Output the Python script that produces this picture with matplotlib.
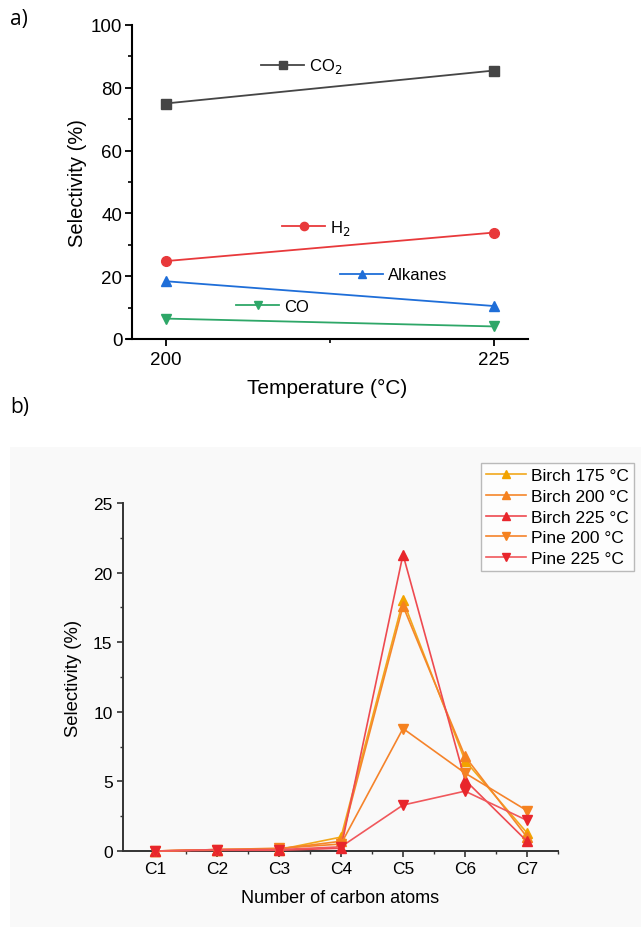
import matplotlib
matplotlib.use("Agg")
import matplotlib.pyplot as plt
from matplotlib.legend import Legend
from matplotlib.patches import Rectangle
from matplotlib.ticker import MultipleLocator, FixedLocator

plt.rcParams['font.family'] = ['Liberation Sans', 'DejaVu Sans']

# ---------------- data: panel a ----------------
temps = [200, 225]
co2 = [75.0, 85.5]
h2 = [24.8, 33.9]
alkanes = [18.4, 10.5]
co = [6.5, 4.0]
a_labels = ["CO$_2$", "H$_2$", "Alkanes", "CO"]
a_colors = ["#454545", "#E8393B", "#1F6ED8", "#2EA768"]
a_markers = ["s", "o", "^", "v"]

# ---------------- data: panel b ----------------
carbons = ["C1", "C2", "C3", "C4", "C5", "C6", "C7"]
birch175 = [0.0, 0.10, 0.10, 1.0, 18.0, 6.5, 1.3]
birch200 = [0.0, 0.10, 0.15, 0.7, 17.6, 6.8, 1.0]
birch225 = [0.0, 0.05, 0.05, 0.2, 21.3, 5.1, 0.7]
pine200 = [0.0, 0.10, 0.20, 0.5, 8.8, 5.6, 2.9]
pine225 = [0.0, 0.10, 0.10, 0.3, 3.3, 4.3, 2.2]
b_labels = ["Birch 175 °C", "Birch 200 °C", "Birch 225 °C", "Pine 200 °C", "Pine 225 °C"]
b_line_colors = ["#F2A81D", "#F5872A", "#EE4A50", "#F5832A", "#F0585C"]
b_marker_colors = ["#F2A300", "#F58220", "#E8262C", "#F58220", "#E8262C"]
b_markers = ["^", "^", "^", "v", "v"]

W, H = 641, 928
fig = plt.figure(figsize=(W / 100, H / 100), dpi=100)

def fx(px):
    return px / W

def fy(py):
    return 1 - py / H

# background of panel b
fig.patches.append(Rectangle((fx(10), 0), 1 - fx(10), fy(448), transform=fig.transFigure,
                             facecolor="#F9F9F9", edgecolor="none", zorder=-10))

fig.text(fx(10), fy(20), "a)", fontsize=15, family=["Open Sans", "DejaVu Sans"], va="center", ha="left")
fig.text(fx(10), fy(408), "b)", fontsize=15, family=["Open Sans", "DejaVu Sans"], va="center", ha="left")

# ---------------- panel a ----------------
axa = fig.add_axes([fx(127), fy(340), fx(528) - fx(127), fy(26) - fy(340)])
series_a = [co2, h2, alkanes, co]
handles = []
for vals, lab, c, m in zip(series_a, a_labels, a_colors, a_markers):
    h, = axa.plot(temps, vals, color=c, marker=m, markersize=7, lw=1.3, label=lab,
                  clip_on=False, zorder=3)
    handles.append(h)
px_per_unit = (494 - 165.5) / 25
axa.set_xlim(200 - (165.5 - 127) / px_per_unit, 225 + (528 - 494) / px_per_unit)
axa.set_ylim(0, 100)
axa.spines['left'].set_position(('data', 200 - (165.5 - 132) / px_per_unit))
axa.spines['top'].set_visible(False)
axa.spines['right'].set_visible(False)
for s in ['left', 'bottom']:
    axa.spines[s].set_linewidth(1.5)
axa.set_xticks(temps)
axa.xaxis.set_minor_locator(FixedLocator([212.5]))
axa.yaxis.set_major_locator(MultipleLocator(20))
axa.yaxis.set_minor_locator(MultipleLocator(10))
axa.tick_params(which='major', direction='out', length=5, width=1.3, labelsize=13.5)
axa.tick_params(axis='y', which='major', pad=2)
axa.tick_params(which='minor', direction='out', length=3, width=1.2)
axa.set_xlabel("Temperature (°C)", fontsize=15, labelpad=7)
axa.set_ylabel("Selectivity (%)", fontsize=14.5, labelpad=3)
axa.patch.set_alpha(0)

# individually placed legend entries (Origin style)
legend_pos = [(261, 67), (282, 228), (340, 276), (236, 307)]
for h, lab, (px, py) in zip(handles, a_labels, legend_pos):
    x_ax = (px - 127) / (528 - 127)
    y_ax = (340 - py) / (340 - 26)
    lg = Legend(axa, [h], [lab], loc='center left', bbox_to_anchor=(x_ax, y_ax),
                frameon=False, fontsize=12, handlelength=2.6, handletextpad=0.3,
                borderpad=0, borderaxespad=0, markerscale=0.85)
    axa.add_artist(lg)

# ---------------- panel b ----------------
axb = fig.add_axes([fx(123), fy(852), fx(558) - fx(123), fy(504) - fy(852)])
xs = list(range(1, len(carbons) + 1))
series_b = [birch175, birch200, birch225, pine200, pine225]
for vals, lab, lc, mc, m in zip(series_b, b_labels, b_line_colors, b_marker_colors, b_markers):
    axb.plot(xs, vals, color=lc, lw=1.2, marker=m, markersize=7, markerfacecolor=mc,
             markeredgecolor=mc, label=lab, clip_on=False, zorder=3)
step = (527 - 155) / 6
axb.set_xlim(1 - (155 - 123) / step, 7 + (558 - 527) / step)
axb.set_ylim(0, 25)
axb.set_xticks(xs)
axb.set_xticklabels(carbons)
axb.xaxis.set_minor_locator(FixedLocator([x + 0.5 for x in xs]))
axb.yaxis.set_major_locator(MultipleLocator(5))
axb.yaxis.set_minor_locator(MultipleLocator(2.5))
axb.spines['top'].set_visible(False)
axb.spines['right'].set_visible(False)
for s in ['left', 'bottom']:
    axb.spines[s].set_linewidth(1.4)
    axb.spines[s].set_color("#333333")
axb.tick_params(which='major', direction='out', length=4, width=1.2, labelsize=12.5, color="#333333")
axb.tick_params(which='minor', direction='out', length=2.5, width=1.0, color="#333333")
axb.set_xlabel("Number of carbon atoms", fontsize=13, labelpad=9)
axb.set_ylabel("Selectivity (%)", fontsize=13.3, labelpad=8)
axb.patch.set_alpha(0)

leg = axb.legend(loc='upper left', bbox_to_anchor=((481 - 123) / (558 - 123), (852 - 464) / (852 - 504)),
                 fontsize=12.5, frameon=True, fancybox=False, handlelength=2.3, handletextpad=0.3,
                 labelspacing=0.32, borderpad=0.3, borderaxespad=0, markerscale=0.8)
leg.get_frame().set_edgecolor("#AAAAAA")
leg.get_frame().set_facecolor("white")
leg.get_frame().set_linewidth(1.0)

fig.savefig("out.png", dpi=100)
